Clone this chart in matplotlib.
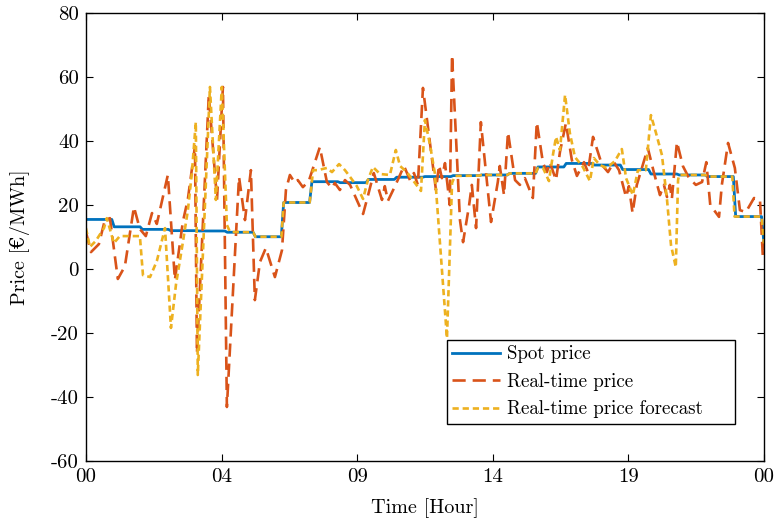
# -*- coding: utf-8 -*-

import numpy as np
import matplotlib
matplotlib.use('Agg')
import matplotlib.pyplot as plt

plt.rcParams['font.family'] = ['cmr10', 'DejaVu Serif']
plt.rcParams['mathtext.fontset'] = 'cm'
plt.rcParams['axes.unicode_minus'] = False
plt.rcParams['axes.formatter.use_mathtext'] = False
plt.rcParams['lines.scale_dashes'] = False

# hourly spot price (EUR/MWh), plus first value of next day
spot_hourly = [15.5, 13.2, 12.4, 12.0, 11.9, 11.5, 10.1, 20.8, 27.3, 27.0, 28.0, 28.7,
               28.9, 29.2, 29.4, 29.9, 31.9, 33.0, 32.5, 31.1, 29.7, 29.4, 28.9, 16.4]
spot_next = 8.0

# real-time price (hour, value)
rt_hours = [0.00, 0.18, 0.46, 0.67, 0.85, 1.13, 1.38, 1.70, 1.91, 2.12, 2.34, 2.51,
            2.90, 3.15, 3.43, 3.61, 3.86, 3.93, 4.35, 4.64, 4.85, 4.99, 5.42, 5.63,
            5.84, 5.98, 6.16, 6.37, 6.69, 6.94, 7.08, 7.22, 7.40, 7.50, 7.68, 7.89,
            8.28, 8.53, 8.71, 8.81, 8.99, 9.17, 9.35, 9.81, 9.98, 10.19, 10.48, 10.58,
            10.69, 10.94, 11.26, 11.47, 11.61, 11.75, 11.93, 12.39, 12.50, 12.60, 12.71,
            12.88, 12.96, 13.24, 13.35, 13.56, 13.66, 13.81, 13.98, 14.34, 14.58, 14.65,
            14.80, 14.94, 15.19, 15.36, 15.54, 15.82, 15.96, 16.18, 16.32, 16.42, 16.64,
            16.78, 16.99, 17.20, 17.38, 17.63, 17.77, 17.95, 18.27, 18.48, 18.69, 18.87,
            19.12, 19.22, 19.35, 19.50, 19.68, 19.89, 20.11, 20.32, 20.46, 20.57, 20.67,
            20.74, 20.92, 21.13, 21.35, 21.59, 21.81, 21.96, 22.10, 22.41, 22.51, 22.73,
            22.97, 23.15, 23.36, 23.65, 23.86, 23.96, 24.00]
rt_price = [11.6, 5.3, 7.8, 15.3, 15.9, -3.1, 0.9, 19.4, 12.5, 10.3, 17.5, 14.1,
            29.4, -3.4, 14.7, 21.9, 38.4, -26.3, 54.4, 21.6, 56.9, -43.1, 28.8, 15.3,
            30.9, -9.7, 2.2, 6.6, -2.5, 5.9, 24.7, 29.4, 26.9, 27.8, 25.6, 27.5,
            38.1, 27.2, 25.3, 26.9, 24.7, 27.8, 26.3, 17.2, 22.8, 30.0, 21.6, 25.9,
            21.3, 25.9, 32.2, 27.8, 30.0, 26.3, 56.6, 24.7, 32.5, 28.4, 33.1,
            20.0, 66.9, 15.3, 8.4, 19.7, 26.3, 12.8, 45.9, 14.7, 27.2, 32.2,
            23.1, 42.8, 27.8, 26.3, 28.4, 22.2, 45.9, 33.1, 30.3, 33.4, 27.8,
            36.6, 45.6, 34.1, 29.1, 33.4, 30.3, 41.3, 32.5, 30.3, 33.4, 30.9,
            22.5, 25.9, 17.5, 26.3, 31.6, 37.8, 30.0, 23.1, 26.3, 22.5, 26.3,
            21.9, 39.7, 32.2, 28.4, 26.3, 27.2, 33.4, 20.0, 16.3, 26.3, 39.4,
            31.6, 18.4, 17.8, 22.2, 21.6, 4.1, 8.8]

# real-time price forecast (hour, value)
fc_hours = [0.00, 0.14, 0.35, 0.64, 0.74, 0.99, 1.20, 1.91, 2.02, 2.27, 2.51, 2.80,
            3.01, 3.19, 3.40, 3.61, 3.75, 3.89, 3.96, 4.39, 4.60, 4.81, 4.99, 5.10,
            5.92, 6.00, 6.92, 7.00, 7.92, 7.96, 8.04, 8.21, 8.53, 8.71, 8.96, 9.17,
            9.35, 9.59, 9.81, 9.98, 10.16, 10.41, 10.76, 10.97, 11.12, 11.36, 11.86,
            12.00, 12.18, 12.35, 12.78, 12.96, 13.06, 13.92, 14.00, 14.92, 15.00,
            15.92, 16.00, 16.18, 16.39, 16.53, 16.64, 16.78, 16.96, 17.13, 17.31,
            17.59, 17.84, 17.98, 18.19, 18.44, 18.73, 18.97, 19.12, 19.36, 19.54,
            19.82, 20.00, 20.18, 20.39, 20.57, 20.71, 20.88, 20.96, 21.00, 21.92,
            22.00, 22.88, 22.96, 23.92, 24.00]
fc_price = [12.8, 6.9, 8.8, 12.8, 15.9, 8.1, 10.3, 10.3, -1.9, -2.5, 2.5, 12.8,
            -18.4, -4.7, 6.6, 18.4, 30.0, 45.9, -33.1, 56.9, 21.6, 56.9, 13.8, 11.6,
            11.5, 10.1, 10.1, 20.8, 20.8, 24.0, 30.9, 30.9, 31.6, 30.3, 32.8, 30.9,
            28.8, 25.9, 21.9, 27.8, 31.9, 29.7, 29.4, 37.2, 32.2, 30.3, 24.4,
            46.6, 38.8, 30.0, -21.6, 26.9, 29.1, 29.2, 29.4, 29.4, 29.9,
            29.9, 31.6, 31.6, 27.5, 35.6, 41.3, 37.2, 54.4, 42.5, 35.0,
            31.9, 27.5, 34.7, 32.5, 31.6, 33.8, 37.5, 28.4, 23.1, 30.9,
            30.9, 48.1, 42.5, 35.6, 21.6, 7.5, 0.6, 27.8, 29.4, 29.4,
            28.9, 28.9, 16.4, 16.4, 8.0]

tick_labels = ['00', '04', '09', '14', '19', '00']

# spot price on a 5-minute grid
t5 = np.arange(24 * 12 + 1) / 12.0
spot5 = np.append(np.repeat(spot_hourly, 12), spot_next)

fig = plt.figure(figsize=(7.74, 5.21), dpi=100)
ax = fig.add_axes([0.111, 0.115, 0.876, 0.860])

ax.plot(t5, spot5, color='#0072BD', lw=2.0, label='Spot price')
ax.plot(rt_hours, rt_price, color='#D95319', lw=1.9, dashes=(9.5, 5.0),
        label='Real-time price')
ax.plot(fc_hours, fc_price, color='#EDB120', lw=1.9, dashes=(4.5, 2.8),
        label='Real-time price forecast')

ax.set_xlim(0, 24)
ax.set_ylim(-60, 80)
ax.set_xticks(np.linspace(0, 24, 6))
ax.set_xticklabels(tick_labels)
ax.set_yticks(np.arange(-60, 81, 20))
ax.tick_params(direction='in', top=True, right=True, length=5, width=0.8,
               labelsize=15, pad=5)
for s in ax.spines.values():
    s.set_linewidth(1.0)

ax.set_xlabel('Time [Hour]', fontsize=14.5, labelpad=9)
ax.set_ylabel('Price [€/MWh]', fontsize=14.5, labelpad=15)

leg = ax.legend(loc='lower left', bbox_to_anchor=(0.532, 0.083, 0.425, 0.2),
                mode='expand', borderaxespad=0,
                fontsize=13.6, handlelength=2.5, handletextpad=0.4, fancybox=False,
                framealpha=1, edgecolor='black', borderpad=0.3, labelspacing=0.5)
leg.get_frame().set_linewidth(1.0)

plt.savefig('out.png', dpi=100)
